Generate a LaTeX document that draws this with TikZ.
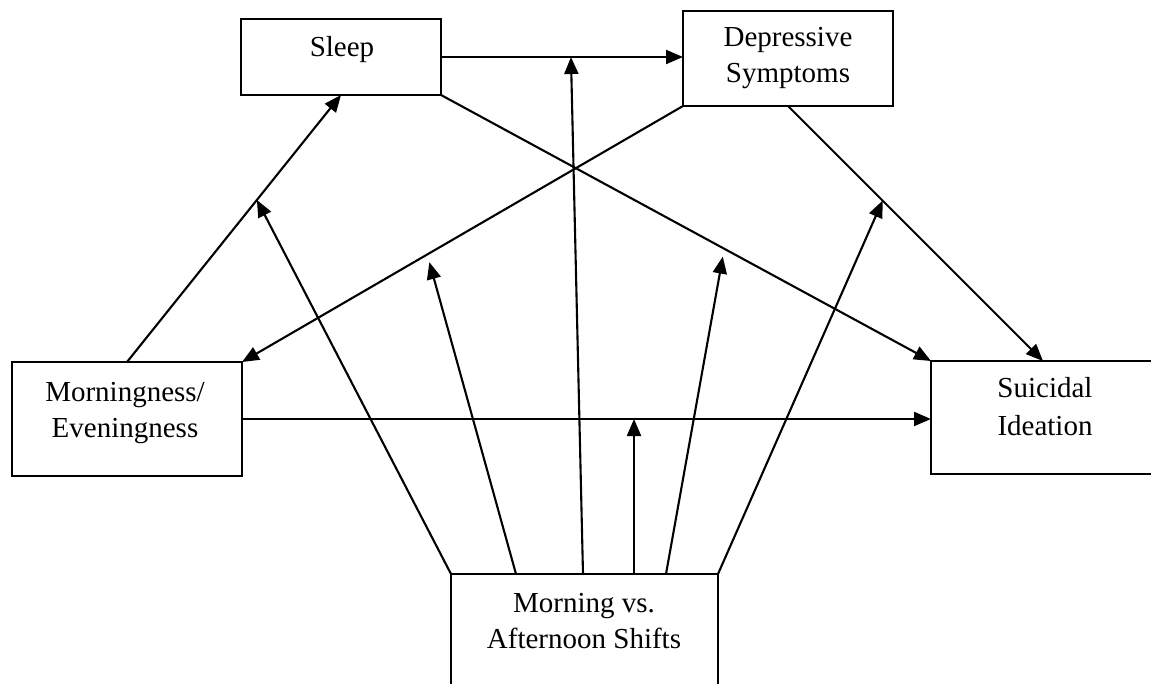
\documentclass[tikz,border=0pt]{standalone}
\usepackage{fontspec}
\setmainfont{Liberation Serif}
\usetikzlibrary{arrows.meta,calc}
\begin{document}
\begin{tikzpicture}[x=1pt,y=-1pt,
  box/.style={draw, line width=1.6pt, inner sep=0pt, outer sep=0pt},
  lbl/.style={anchor=base, inner sep=0pt, font=\fontsize{29}{34}\selectfont},
  arr/.style={line width=2.1pt, -{Triangle[length=17pt,width=14pt]}},
  arrs/.style={arr, shorten >=8pt}]
\useasboundingbox (0,0) rectangle (1151,684);
\clip (0,0) rectangle (1151,684);
% boxes
\node[box, minimum width=200pt, minimum height=76pt] (sleep) at (341,57) {};
\node[box, minimum width=210pt, minimum height=95pt] (dep) at (788,58.5) {};
\node[box, minimum width=230pt, minimum height=114pt] (morn) at (127,419) {};
\node[box, minimum width=240pt, minimum height=113pt] (suic) at (1051,417.5) {};
\node[box, minimum width=267pt, minimum height=126pt] (shift) at (584.5,637) {};
% labels
\node[lbl] (sleepT) at (342,57) {Sleep};
\node[lbl] (depT1) at (788,47) {Depressive};
\node[lbl] (depT2) at (788,83) {Symptoms};
\node[lbl] (mornT1) at (125,402) {Morningness/};
\node[lbl] (mornT2) at (125,437) {Eveningness};
\node[lbl] (suicT1) at (1045,398) {Suicidal};
\node[lbl] (suicT2) at (1045,435) {Ideation};
\node[lbl] (shiftT1) at (584,612) {Morning vs.};
\node[lbl] (shiftT2) at (584,648) {Afternoon Shifts};
% main paths
\draw[arr] (sleep.east) -- (sleep.east -| dep.west);
\draw[arr] (morn.north) -- (sleep.south);
\draw[arr] (dep.south west) -- (morn.north east);
\draw[arr] (sleep.south east) -- (suic.north west);
\draw[arr] (dep.south) -- ($(suic.north west)+(112,0)$);
\draw[arr] (morn.east) -- (morn.east -| suic.west);
% points on paths
\coordinate (pSD) at ($(sleep.east)!0.537!(sleep.east -| dep.west)$);
\coordinate (pMS) at ($(morn.north)!0.607!(sleep.south)$);
\coordinate (pDM) at ($(dep.south west)!0.58!(morn.north east)$);
\coordinate (pSS) at ($(sleep.south east)!0.578!(suic.north west)$);
\coordinate (pDS) at ($(dep.south)!0.371!($(suic.north west)+(112,0)$)$);
% moderator starts
\coordinate (s1) at (shift.north west);
\coordinate (s2) at ($(shift.north west)+(65,0)$);
\coordinate (s3) at ($(shift.north west)+(132,0)$);
\coordinate (s4) at ($(shift.north west)+(183,0)$);
\coordinate (s5) at ($(shift.north west)+(215,0)$);
\coordinate (s6) at (shift.north east);
% moderator arrows
\draw[arr] (s1) -- (pMS);
\draw[arrs] (s2) -- (pDM);
\draw[arr] (s3) -- (pSD);
\draw[arr] (s4) -- (s4 |- morn.east);
\draw[arrs] (s5) -- (pSS);
\draw[arr] (s6) -- (pDS);
\end{tikzpicture}
\end{document}
